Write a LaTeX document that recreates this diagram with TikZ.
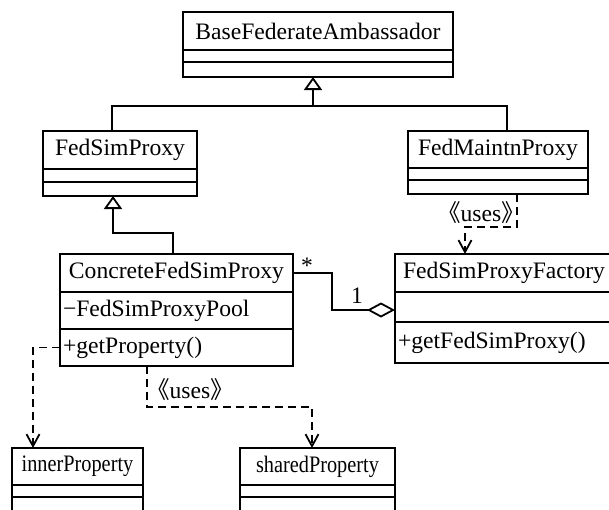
\documentclass[tikz,border=0pt]{standalone}
\usepackage{fontspec}
\setmainfont{Liberation Serif}
\newfontfamily\cjk{Noto Sans CJK SC}
\newfontfamily\narrowserif[FakeStretch=0.86]{Liberation Serif}
\usetikzlibrary{positioning}
\usetikzlibrary{arrows.meta}

\newcommand{\useslabel}{{\cjk\kern-0.5em 《}uses{\cjk 》\kern-0.5em}}

\begin{document}
\begin{tikzpicture}[x=0.5pt, y=-0.5pt,
        font = \fontsize{11.8pt}{14pt}\selectfont,
        line width = 0.9pt,
        ctitle/.style = {
            draw,
            minimum width = #1,
            minimum height = 19pt,
            inner sep = 0pt,
            outer sep = 0pt,
            align = center
        },
        cfield/.style = {
            draw,
            minimum width = #1,
            minimum height = 6.5pt,
            inner sep = 0pt,
            outer sep = 0pt
        },
        cmember/.style = {
            draw,
            text width = #1,
            minimum height = 18.5pt,
            inner xsep = 1.5pt,
            inner ysep = 0pt,
            outer sep = 0pt,
            align = left
        },
        gen/.style = {-{Triangle[open, length=6.5pt, width=9pt]}},
        dep/.style = {dash pattern=on 4pt off 2.5pt, -{Straight Barb[length=6pt, width=6.5pt]}},
        agg/.style = {-{Diamond[open, length=14pt, width=7.5pt]}},
        node distance = 0pt
        ]
        \useasboundingbox (0,0) rectangle (609,509);
%
        \node[ctitle=135pt] (base) at (318,31) {BaseFederateAmbassador};
        \node[cfield=135pt, minimum height=6pt, below=of base] (base2) {};
        \node[cfield=135pt, minimum height=7.5pt, below=of base2] (base3) {};
%
        \node[ctitle=77pt] (fsp) at (120,150) {FedSimProxy};
        \node[cfield=77pt, below=of fsp] (fsp2) {};
        \node[cfield=77pt, minimum height=7pt, below=of fsp2] (fsp3) {};
%
        \node[ctitle=90pt, minimum height=18.5pt] (fmp) at (498,149.5) {FedMaintnProxy};
        \node[cfield=90pt, minimum height=6pt, below=of fmp] (fmp2) {};
        \node[cfield=90pt, minimum height=7pt, below=of fmp2] (fmp3) {};
%
        \node[ctitle=116.5pt] (cfp) at (176.5,273) {ConcreteFedSimProxy};
        \node[cmember=113.5pt, below=of cfp] (cfp2) {−FedSimProxyPool};
        \node[cmember=113.5pt, below=of cfp2] (cfp3) {+getProperty()};
%
        \node[ctitle=109pt] (fpf) at (504,273) {FedSimProxyFactory};
        \node[cfield=109pt, minimum height=15pt, below=of fpf] (fpf2) {};
        \node[cmember=106pt, minimum height=20.5pt, below=of fpf2] (fpf3) {+getFedSimProxy()};
%
        \node[ctitle=65.5pt, minimum height=18.5pt, font=\narrowserif\fontsize{11.8pt}{14pt}\selectfont] (ip) at (77.5,466.5) {innerProperty};
        \node[cfield=65.5pt, minimum height=6pt, below=of ip] (ip2) {};
        \node[cfield=65.5pt, minimum height=8pt, below=of ip2] (ip3) {};
%
        \node[ctitle=77.5pt, minimum height=18.5pt, font=\narrowserif\fontsize{11.8pt}{14pt}\selectfont] (sp) at (317.5,466.5) {sharedProperty};
        \node[cfield=77.5pt, minimum height=6pt, below=of sp] (sp2) {};
        \node[cfield=77.5pt, minimum height=8pt, below=of sp2] (sp3) {};
%
% generalization
        \coordinate (j1) at (313,106);
        \draw ([xshift=-4pt]fsp.north) |- (j1) -| ([xshift=4.5pt]fmp.north);
        \draw[gen] (j1) -- (j1 |- base3.south);
        \coordinate (j2) at (113,233);
        \draw[gen] ([xshift=-1.75pt]cfp.north) |- (j2) -- (j2 |- fsp3.south);
%
% dependencies
        \coordinate (j3) at (465,227);
        \draw[dep] ([xshift=9.5pt]fmp3.south) |- (j3) -- (j3 |- fpf.north);
        \node (uses1) at (481,213) {\useslabel};
%
        \draw[dep] (cfp3.west) -| ([xshift=-22.25pt]ip.north);
        \coordinate (j5) at (230,407);
        \draw[dep] ([xshift=-14.75pt]cfp3.south) |- (j5) -| ([xshift=-2.75pt]sp.north);
        \node (uses2) at (190,390) {\useslabel};
%
% aggregation
        \coordinate (j6) at (332,290);
        \draw[agg] (cfp.east) -| (j6) |- ([yshift=-1.5pt]fpf2.west);
        \node (mstar) at (307,266) {*};
        \node (mone) at (357,296) {1};
\end{tikzpicture}
\end{document}
